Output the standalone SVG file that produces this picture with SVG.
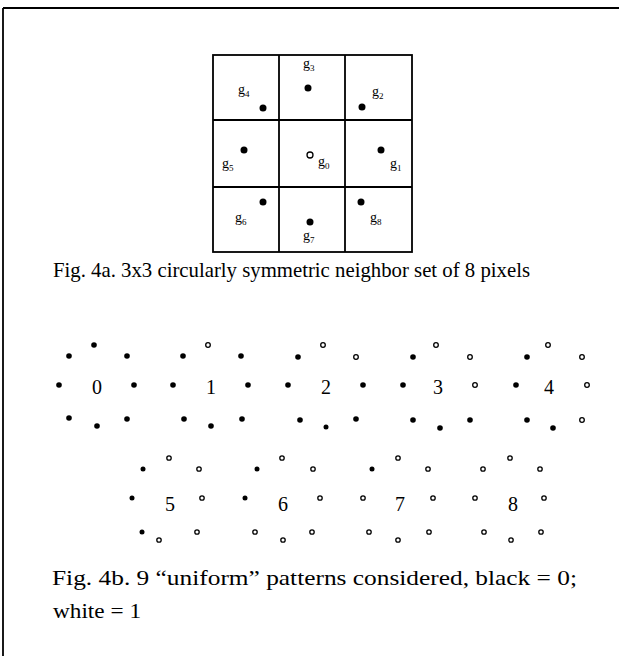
<svg xmlns="http://www.w3.org/2000/svg" width="619" height="656" viewBox="0 0 619 656">
<style>
.f{fill:#000}
.o{fill:#fff;stroke:#000;stroke-width:1.3}
.t{font-family:"Liberation Serif","Times New Roman",serif;fill:#000}
.g{font-size:14px}
.s{font-size:9px}
.d{font-size:20px;text-anchor:middle}
.c{font-size:21px}
.ln{stroke:#000;stroke-width:1.8;fill:none}
</style>
<rect width="619" height="656" fill="#fff"/>
<g id="frame">
<line class="ln" x1="3" y1="8" x2="619" y2="8"/>
<line class="ln" x1="3" y1="8" x2="3" y2="656"/>
</g>
<g id="grid">
<rect class="ln" x="213" y="55" width="199" height="197"/>
<line class="ln" x1="279" y1="55" x2="279" y2="252"/>
<line class="ln" x1="345" y1="55" x2="345" y2="252"/>
<line class="ln" x1="213" y1="120" x2="412" y2="120"/>
<line class="ln" x1="213" y1="187" x2="412" y2="187"/>
</g>
<g id="neighbors">
<circle class="f" cx="263" cy="108" r="3.5"/>
<circle class="f" cx="308" cy="88" r="3.5"/>
<circle class="f" cx="362" cy="107" r="3.5"/>
<circle class="f" cx="244" cy="150" r="3.5"/>
<circle class="o" cx="310" cy="155" r="3"/>
<circle class="f" cx="381" cy="150" r="3.5"/>
<circle class="f" cx="263" cy="202" r="3.5"/>
<circle class="f" cx="310" cy="222" r="3.5"/>
<circle class="f" cx="361" cy="202" r="3.5"/>
<text class="t g" x="238" y="94">g<tspan class="s" dy="3">4</tspan></text>
<text class="t g" x="303" y="68">g<tspan class="s" dy="3">3</tspan></text>
<text class="t g" x="372" y="96">g<tspan class="s" dy="3">2</tspan></text>
<text class="t g" x="222" y="168">g<tspan class="s" dy="3">5</tspan></text>
<text class="t g" x="318" y="166">g<tspan class="s" dy="3">0</tspan></text>
<text class="t g" x="390" y="168">g<tspan class="s" dy="3">1</tspan></text>
<text class="t g" x="235" y="222">g<tspan class="s" dy="3">6</tspan></text>
<text class="t g" x="303" y="240">g<tspan class="s" dy="3">7</tspan></text>
<text class="t g" x="370" y="222">g<tspan class="s" dy="3">8</tspan></text>
</g>
<text class="t c" x="53" y="277" textLength="477" lengthAdjust="spacingAndGlyphs">Fig. 4a. 3x3 circularly symmetric neighbor set of 8 pixels</text>
<g id="p0">
<circle class="f" cx="69" cy="356" r="2.8"/><circle class="f" cx="94" cy="345" r="2.8"/><circle class="f" cx="127" cy="356" r="2.8"/>
<circle class="f" cx="59" cy="385" r="2.8"/><text class="t d" x="97" y="394">0</text><circle class="f" cx="134" cy="385" r="2.8"/>
<circle class="f" cx="69" cy="418" r="2.8"/><circle class="f" cx="97" cy="426" r="2.8"/><circle class="f" cx="127" cy="419" r="2.8"/>
</g>
<g id="p1">
<circle class="f" cx="183" cy="356" r="2.8"/><circle class="o" cx="208" cy="345" r="2.3"/><circle class="f" cx="241" cy="356" r="2.8"/>
<circle class="f" cx="173" cy="385" r="2.8"/><text class="t d" x="211" y="394">1</text><circle class="f" cx="248" cy="385" r="2.8"/>
<circle class="f" cx="184" cy="419" r="2.8"/><circle class="f" cx="211" cy="426" r="2.8"/><circle class="f" cx="242" cy="419" r="2.8"/>
</g>
<g id="p2">
<circle class="f" cx="298" cy="357" r="2.8"/><circle class="o" cx="323" cy="345" r="2.3"/><circle class="o" cx="356" cy="357" r="2.3"/>
<circle class="f" cx="288" cy="385" r="2.8"/><text class="t d" x="326" y="394">2</text><circle class="f" cx="363" cy="385" r="2.8"/>
<circle class="f" cx="300" cy="420" r="2.8"/><circle class="f" cx="326" cy="427" r="2.5"/><circle class="f" cx="356" cy="419" r="2.8"/>
</g>
<g id="p3">
<circle class="f" cx="413" cy="357" r="2.8"/><circle class="o" cx="436" cy="345" r="2.3"/><circle class="o" cx="470" cy="357" r="2.3"/>
<circle class="f" cx="403" cy="385" r="2.8"/><text class="t d" x="438" y="394">3</text><circle class="o" cx="475" cy="385" r="2.3"/>
<circle class="f" cx="413" cy="420" r="2.8"/><circle class="f" cx="440" cy="428" r="2.8"/><circle class="f" cx="470" cy="420" r="2.8"/>
</g>
<g id="p4">
<circle class="f" cx="527" cy="357" r="2.8"/><circle class="o" cx="548" cy="345" r="2.3"/><circle class="o" cx="582" cy="357" r="2.3"/>
<circle class="f" cx="516" cy="385" r="2.8"/><text class="t d" x="549" y="394">4</text><circle class="o" cx="587" cy="385" r="2.3"/>
<circle class="f" cx="527" cy="420" r="2.8"/><circle class="f" cx="553" cy="428" r="2.8"/><circle class="o" cx="582" cy="420" r="2.3"/>
</g>
<g id="p5">
<circle class="f" cx="143" cy="469" r="2.5"/><circle class="o" cx="169" cy="458" r="2.2"/><circle class="o" cx="199" cy="469" r="2.2"/>
<circle class="f" cx="132" cy="498" r="2.5"/><text class="t d" x="170" y="511">5</text><circle class="o" cx="202" cy="498" r="2.2"/>
<circle class="f" cx="142" cy="532" r="2.5"/><circle class="o" cx="159" cy="540" r="2.2"/><circle class="o" cx="197" cy="532" r="2.2"/>
</g>
<g id="p6">
<circle class="f" cx="257" cy="469" r="2.5"/><circle class="o" cx="282" cy="458" r="2.2"/><circle class="o" cx="313" cy="469" r="2.2"/>
<circle class="f" cx="245" cy="498" r="2.5"/><text class="t d" x="283" y="511">6</text><circle class="o" cx="320" cy="498" r="2.2"/>
<circle class="o" cx="255" cy="532" r="2.2"/><circle class="o" cx="283" cy="540" r="2.2"/><circle class="o" cx="312" cy="532" r="2.2"/>
</g>
<g id="p7">
<circle class="f" cx="372" cy="469" r="2.5"/><circle class="o" cx="398" cy="458" r="2.2"/><circle class="o" cx="428" cy="469" r="2.2"/>
<circle class="o" cx="363" cy="498" r="2.2"/><text class="t d" x="400" y="511">7</text><circle class="o" cx="433" cy="498" r="2.2"/>
<circle class="o" cx="369" cy="532" r="2.2"/><circle class="o" cx="398" cy="540" r="2.2"/><circle class="o" cx="429" cy="532" r="2.2"/>
</g>
<g id="p8">
<circle class="o" cx="483" cy="469" r="2.2"/><circle class="o" cx="510" cy="458" r="2.2"/><circle class="o" cx="540" cy="469" r="2.2"/>
<circle class="o" cx="475" cy="498" r="2.2"/><text class="t d" x="513" y="511">8</text><circle class="o" cx="544" cy="498" r="2.2"/>
<circle class="o" cx="484" cy="532" r="2.2"/><circle class="o" cx="511" cy="540" r="2.2"/><circle class="o" cx="541" cy="532" r="2.2"/>
</g>
<text class="t c" x="52" y="585" textLength="525" lengthAdjust="spacingAndGlyphs">Fig. 4b. 9 “uniform” patterns considered, black = 0;</text>
<text class="t c" x="53" y="618" textLength="88" lengthAdjust="spacingAndGlyphs">white = 1</text>
</svg>
